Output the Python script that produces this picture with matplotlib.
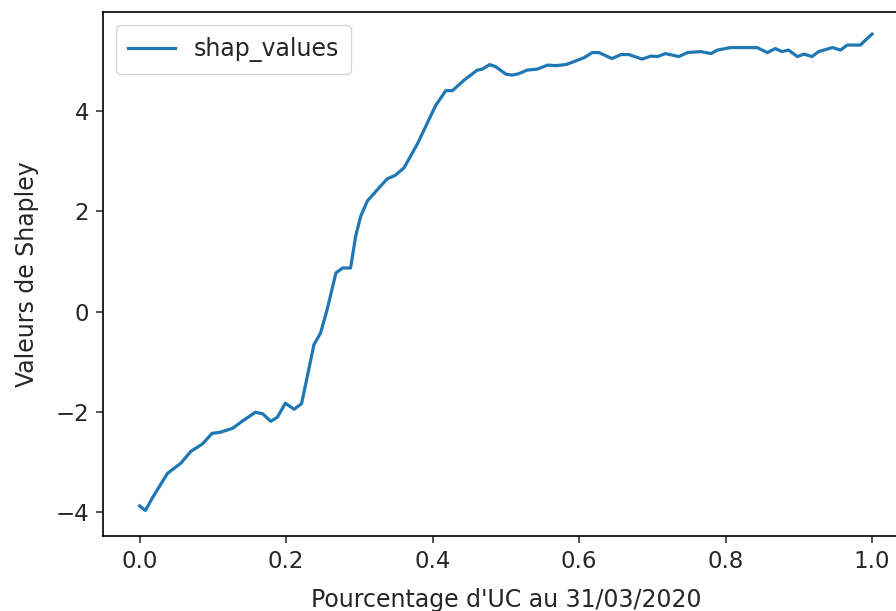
import matplotlib
matplotlib.use("Agg")
import matplotlib.pyplot as plt

x_values = [0.0, 0.008, 0.017, 0.038, 0.056, 0.070, 0.086, 0.099, 0.110, 0.127,
            0.140, 0.158, 0.168, 0.179, 0.188, 0.199, 0.211, 0.221, 0.227, 0.238,
            0.247, 0.256, 0.268, 0.277, 0.288, 0.295, 0.302, 0.311, 0.325, 0.338,
            0.349, 0.361, 0.379, 0.393, 0.404, 0.418, 0.427, 0.443, 0.461, 0.468,
            0.478, 0.486, 0.500, 0.509, 0.518, 0.529, 0.543, 0.557, 0.568, 0.582,
            0.593, 0.607, 0.618, 0.627, 0.645, 0.657, 0.668, 0.686, 0.698, 0.707,
            0.718, 0.736, 0.748, 0.766, 0.780, 0.789, 0.807, 0.825, 0.843, 0.857,
            0.868, 0.877, 0.886, 0.898, 0.907, 0.918, 0.927, 0.946, 0.957, 0.966,
            0.984, 0.989, 1.0]
shap_values = [-3.88, -3.97, -3.73, -3.23, -3.03, -2.79, -2.64, -2.43, -2.41, -2.33,
               -2.19, -2.01, -2.04, -2.19, -2.11, -1.83, -1.95, -1.84, -1.43, -0.66,
               -0.43, 0.04, 0.77, 0.87, 0.87, 1.51, 1.91, 2.21, 2.44, 2.65,
               2.72, 2.87, 3.34, 3.77, 4.11, 4.41, 4.41, 4.62, 4.82, 4.84,
               4.93, 4.89, 4.74, 4.72, 4.75, 4.82, 4.84, 4.92, 4.91, 4.93,
               4.99, 5.07, 5.17, 5.17, 5.05, 5.13, 5.13, 5.04, 5.10, 5.09,
               5.15, 5.09, 5.17, 5.19, 5.15, 5.22, 5.27, 5.27, 5.27, 5.17,
               5.25, 5.19, 5.22, 5.09, 5.14, 5.09, 5.19, 5.27, 5.22, 5.32,
               5.32, 5.39, 5.54]
x_label = "Pourcentage d'UC au 31/03/2020"
y_label = "Valeurs de Shapley"
series_name = "shap_values"

fig = plt.figure(figsize=(8.96, 6.11), dpi=100)
ax = fig.add_axes([103 / 896, 75 / 611, 805.7 / 896, 524 / 611])
ax.plot(x_values, shap_values, color="#1f77b4", lw=2.3, label=series_name)
ax.set_xlim(-0.05, 1.05)
ax.set_ylim(-4.48, 5.98)
ax.set_xticks([0.0, 0.2, 0.4, 0.6, 0.8, 1.0])
ax.set_yticks([-4, -2, 0, 2, 4])
ax.tick_params(labelsize=16.5, length=5, width=1.1, pad=5,
               colors="#262626", labelcolor="#262626")
for s in ax.spines.values():
    s.set_linewidth(1.2)
ax.set_xlabel(x_label, fontsize=17, color="#262626", labelpad=11)
ax.set_ylabel(y_label, fontsize=17, color="#262626", labelpad=12)
leg = ax.legend(loc="upper left", fontsize=17, handlelength=2.0,
                borderaxespad=0.55, borderpad=0.5)
for t in leg.get_texts():
    t.set_color("#262626")
fig.savefig("out.png", dpi=100)
